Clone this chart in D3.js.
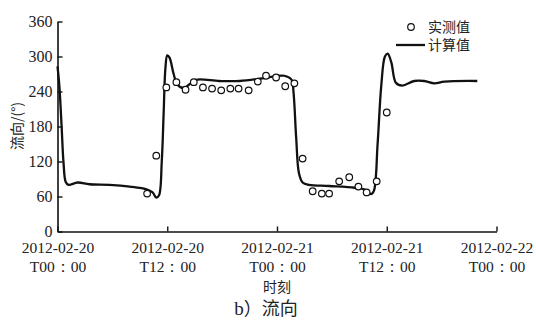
<!DOCTYPE html>
<html>
<head>
<meta charset="utf-8">
<script src="https://cdn.jsdelivr.net/npm/d3@7"></script>
<style>
  body { margin: 0; background: #fff; }
  svg { display: block; }
  text { fill: #222; }
</style>
</head>
<body>
<svg id="chart" width="536" height="324"></svg>
<script>
// hours since 2012-02-20T00:00
const calcHours = [0, 0.2, 0.45, 0.65, 0.9, 1.2, 2.2, 3.5, 5.7, 7.9, 9.8, 10.4, 10.8, 11.1, 11.4, 11.6, 11.8, 12.0, 12.25, 12.7, 13.1, 13.8, 14.4, 15.1, 17.7, 19.9, 22.1, 23.7, 24.8, 25.6, 25.8, 26.1, 26.4, 26.8, 27.5, 29.7, 32.5, 33.6, 34.3, 34.6, 35.0, 35.4, 35.8, 36.1, 36.5, 37.0, 37.7, 39.0, 40.1, 41.2, 42.3, 45.9];
const calcValues = [283, 250, 180, 120, 85, 80, 84, 81, 80, 77, 72, 67, 58, 62, 120, 200, 280, 302, 298, 270, 252, 246, 252, 260, 258, 258, 262, 266, 267, 260, 240, 160, 100, 84, 80, 78, 75, 72, 64, 70, 150, 250, 300, 305, 290, 255, 250, 258, 258, 254, 257, 258];

const measHours = [9.8, 10.8, 11.9, 13.0, 14.0, 14.9, 15.9, 16.9, 17.9, 18.9, 19.8, 20.9, 21.9, 22.8, 23.9, 24.9, 25.9, 26.8, 27.9, 28.9, 29.7, 30.8, 31.9, 32.9, 33.8, 34.9, 36.0];
const measValues = [65, 130, 247, 256, 243, 256, 247, 245, 242, 245, 245, 242, 257, 267, 264, 249, 254, 125, 69, 65, 65, 86, 93, 77, 67, 86, 204];

const xTicks = [0, 12, 24, 36, 48];
const xTickDates = ['2012-02-20', '2012-02-20', '2012-02-21', '2012-02-21', '2012-02-22'];
const xTickTimes = ['T00：00', 'T12：00', 'T00：00', 'T12：00', 'T00：00'];
const yTicks = [0, 60, 120, 180, 240, 300, 360];

const svg = d3.select('#chart');
const serif = '"Liberation Serif", "Times New Roman", serif';
const cjk = '"Noto Sans CJK SC", sans-serif';

const x = d3.scaleLinear().domain([0, 48]).range([57.5, 496.5]);
const y = d3.scaleLinear().domain([0, 360]).range([231.5, 21.5]);

// y axis, ticks pointing inward
const yAxis = svg.append('g')
  .attr('transform', `translate(${x(0)},0)`)
  .call(d3.axisRight(y).tickValues(yTicks).tickSize(5).tickSizeOuter(0).tickFormat(''));
yAxis.select('.domain').attr('stroke', '#111').attr('stroke-width', 1.6);
yAxis.selectAll('.tick line').attr('stroke', '#111').attr('stroke-width', 1.4);

yAxis.selectAll('.tick').append('text')
  .attr('x', -5).attr('dy', '0.33em')
  .attr('text-anchor', 'end')
  .style('font-family', serif).style('font-size', '16px')
  .text(d => d);

// x axis, ticks pointing up
const xAxis = svg.append('g')
  .attr('transform', `translate(0,${y(0)})`)
  .call(d3.axisTop(x).tickValues(xTicks).tickSize(5).tickSizeOuter(0).tickFormat(''));
xAxis.select('.domain').attr('stroke', '#111').attr('stroke-width', 1.6);
xAxis.selectAll('.tick line').attr('stroke', '#111').attr('stroke-width', 1.4);

xAxis.selectAll('.tick').each(function(d, i) {
  const g = d3.select(this);
  g.append('text').attr('y', 21).attr('text-anchor', 'middle')
    .style('font-family', serif).style('font-size', '15.5px')
    .text(xTickDates[i]);
  g.append('text').attr('y', 40).attr('text-anchor', 'middle')
    .style('font-family', serif).style('font-size', '15.5px')
    .text(xTickTimes[i]);
});

// calculated line
const line = d3.line()
  .x((d, i) => x(calcHours[i]))
  .y(d => y(d))
  .curve(d3.curveCatmullRom.alpha(0.5));

svg.append('path')
  .datum(calcValues)
  .attr('d', line)
  .attr('fill', 'none')
  .attr('stroke', '#111')
  .attr('stroke-width', 2.3)
  .attr('stroke-linejoin', 'round');

// measured points
svg.selectAll('circle.meas')
  .data(measValues)
  .enter().append('circle')
  .attr('class', 'meas')
  .attr('cx', (d, i) => x(measHours[i]))
  .attr('cy', d => y(d))
  .attr('r', 3.3)
  .attr('fill', '#fff')
  .attr('stroke', '#111')
  .attr('stroke-width', 1.2);

// legend
const legend = svg.append('g');
legend.append('circle').attr('cx', 411).attr('cy', 27).attr('r', 3.3)
  .attr('fill', '#fff').attr('stroke', '#111').attr('stroke-width', 1.2);
legend.append('text').attr('x', 428).attr('y', 27).attr('dy', '0.35em')
  .style('font-family', cjk).style('font-size', '14px').text('实测值');
legend.append('line').attr('x1', 396).attr('x2', 425).attr('y1', 45).attr('y2', 45)
  .attr('stroke', '#111').attr('stroke-width', 2.3);
legend.append('text').attr('x', 428).attr('y', 45).attr('dy', '0.35em')
  .style('font-family', cjk).style('font-size', '14px').text('计算值');

// axis titles
svg.append('text')
  .attr('transform', 'translate(17,126) rotate(-90)')
  .attr('text-anchor', 'middle').attr('dy', '0.35em')
  .style('font-family', cjk).style('font-size', '14px')
  .text('流向/(°)');

svg.append('text')
  .attr('x', 277).attr('y', 287).attr('dy', '0.35em')
  .attr('text-anchor', 'middle')
  .style('font-family', cjk).style('font-size', '14px')
  .text('时刻');

const title = svg.append('text')
  .attr('x', 266).attr('y', 309).attr('dy', '0.35em')
  .attr('text-anchor', 'middle')
  .style('font-family', cjk).style('font-size', '18px');
title.append('tspan').style('font-family', serif).style('font-size', '19px').text('b');
title.append('tspan').text('）流向');
</script>
</body>
</html>
